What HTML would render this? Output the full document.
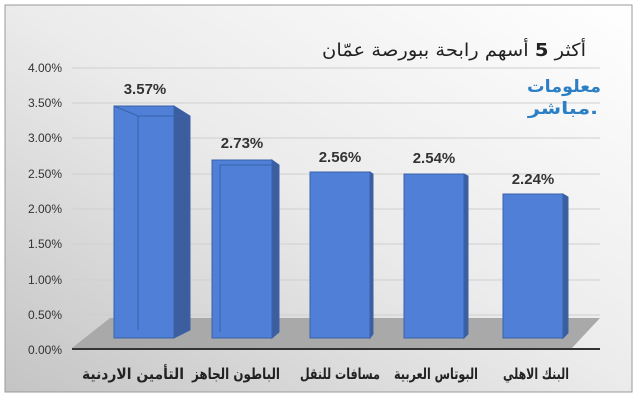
<!DOCTYPE html>
<html><head><meta charset="utf-8"><style>
body{margin:0;width:640px;height:400px;overflow:hidden;background:#fff}
</style></head><body>
<svg width="640" height="400" xmlns="http://www.w3.org/2000/svg" font-family="Liberation Sans, DejaVu Sans, sans-serif">
<defs>
<linearGradient id="bg" x1="1" y1="0" x2="0" y2="1">
<stop offset="0" stop-color="#ffffff"/><stop offset="0.5" stop-color="#ebebeb"/><stop offset="1" stop-color="#c4c4c4"/>
</linearGradient>
</defs>
<rect x="5" y="5" width="627" height="387" fill="url(#bg)" stroke="#9a9a9a"/>
<g stroke="#cfcfcf" stroke-width="1">
<line x1="72" y1="68" x2="600" y2="68"/><line x1="72" y1="103" x2="600" y2="103"/>
<line x1="72" y1="138" x2="600" y2="138"/><line x1="72" y1="174" x2="600" y2="174"/>
<line x1="72" y1="209" x2="600" y2="209"/><line x1="72" y1="244" x2="600" y2="244"/>
<line x1="72" y1="280" x2="600" y2="280"/><line x1="72" y1="315" x2="600" y2="315"/>
</g>
<polygon points="110,318 600,318 572,348 72,348" fill="#a9a9a9"/>
<line x1="72" y1="349" x2="600" y2="349" stroke="#333" stroke-width="2"/>
<g font-size="12" fill="#333" text-anchor="end">
<text x="62" y="72">4.00%</text><text x="62" y="107">3.50%</text><text x="62" y="142">3.00%</text>
<text x="62" y="178">2.50%</text><text x="62" y="213">2.00%</text><text x="62" y="248">1.50%</text>
<text x="62" y="284">1.00%</text><text x="62" y="319">0.50%</text><text x="62" y="354">0.00%</text>
</g>
<g stroke="#3a62ab">
<rect x="114" y="106" width="60" height="232" fill="#4f7fd6"/><polygon points="174,106 190,116 190,330 174,338" fill="#3c5d9e"/><line x1="114" y1="106" x2="138" y2="116"/><line x1="138" y1="116" x2="190" y2="116"/><line x1="138" y1="116" x2="138" y2="330"/>
<rect x="212" y="160" width="60" height="178" fill="#4f7fd6"/><polygon points="272,160 279,165 279,332 272,338" fill="#3c5d9e"/><line x1="220" y1="165" x2="279" y2="165"/><line x1="220" y1="165" x2="220" y2="332"/>
<rect x="310" y="172" width="60" height="166" fill="#4f7fd6"/><polygon points="370,172 373,174 373,334 370,338" fill="#3c5d9e"/>
<rect x="404" y="174" width="60" height="164" fill="#4f7fd6"/><polygon points="464,174 468,176 468,334 464,338" fill="#3c5d9e"/>
<rect x="503" y="194" width="60" height="144" fill="#4f7fd6"/><polygon points="563,194 568,197 568,333 563,338" fill="#3c5d9e"/>
</g>
<g font-size="15" font-weight="bold" fill="#333" text-anchor="middle">
<text x="145" y="94">3.57%</text><text x="242" y="148">2.73%</text><text x="340" y="162">2.56%</text>
<text x="434" y="163">2.54%</text><text x="533" y="184">2.24%</text>
</g>
<g font-size="15" font-weight="bold" fill="#222" font-family="DejaVu Sans, sans-serif">
<text x="82" y="379" textLength="102" lengthAdjust="spacingAndGlyphs">التأمين الاردنية</text>
<text x="192" y="379" textLength="88" lengthAdjust="spacingAndGlyphs">الباطون الجاهز</text>
<text x="300" y="379" textLength="80" lengthAdjust="spacingAndGlyphs">مسافات للنقل</text>
<text x="394" y="379" textLength="84" lengthAdjust="spacingAndGlyphs">البوتاس العربية</text>
<text x="503" y="379" textLength="66" lengthAdjust="spacingAndGlyphs">البنك الاهلي</text>
</g>
<text x="322" y="56" font-size="18" fill="#222" font-family="DejaVu Sans, sans-serif" textLength="264" lengthAdjust="spacingAndGlyphs">أكثر <tspan font-weight="bold">5</tspan> أسهم رابحة ببورصة عمّان</text>
<g font-family="DejaVu Sans, sans-serif" font-weight="bold" fill="#2b7fc4" font-size="17">
<text x="527" y="92" textLength="74" lengthAdjust="spacingAndGlyphs">معلومات</text>
<text x="528" y="114" textLength="70" lengthAdjust="spacingAndGlyphs">مباشر.</text>
</g>
</svg>
</body></html>
